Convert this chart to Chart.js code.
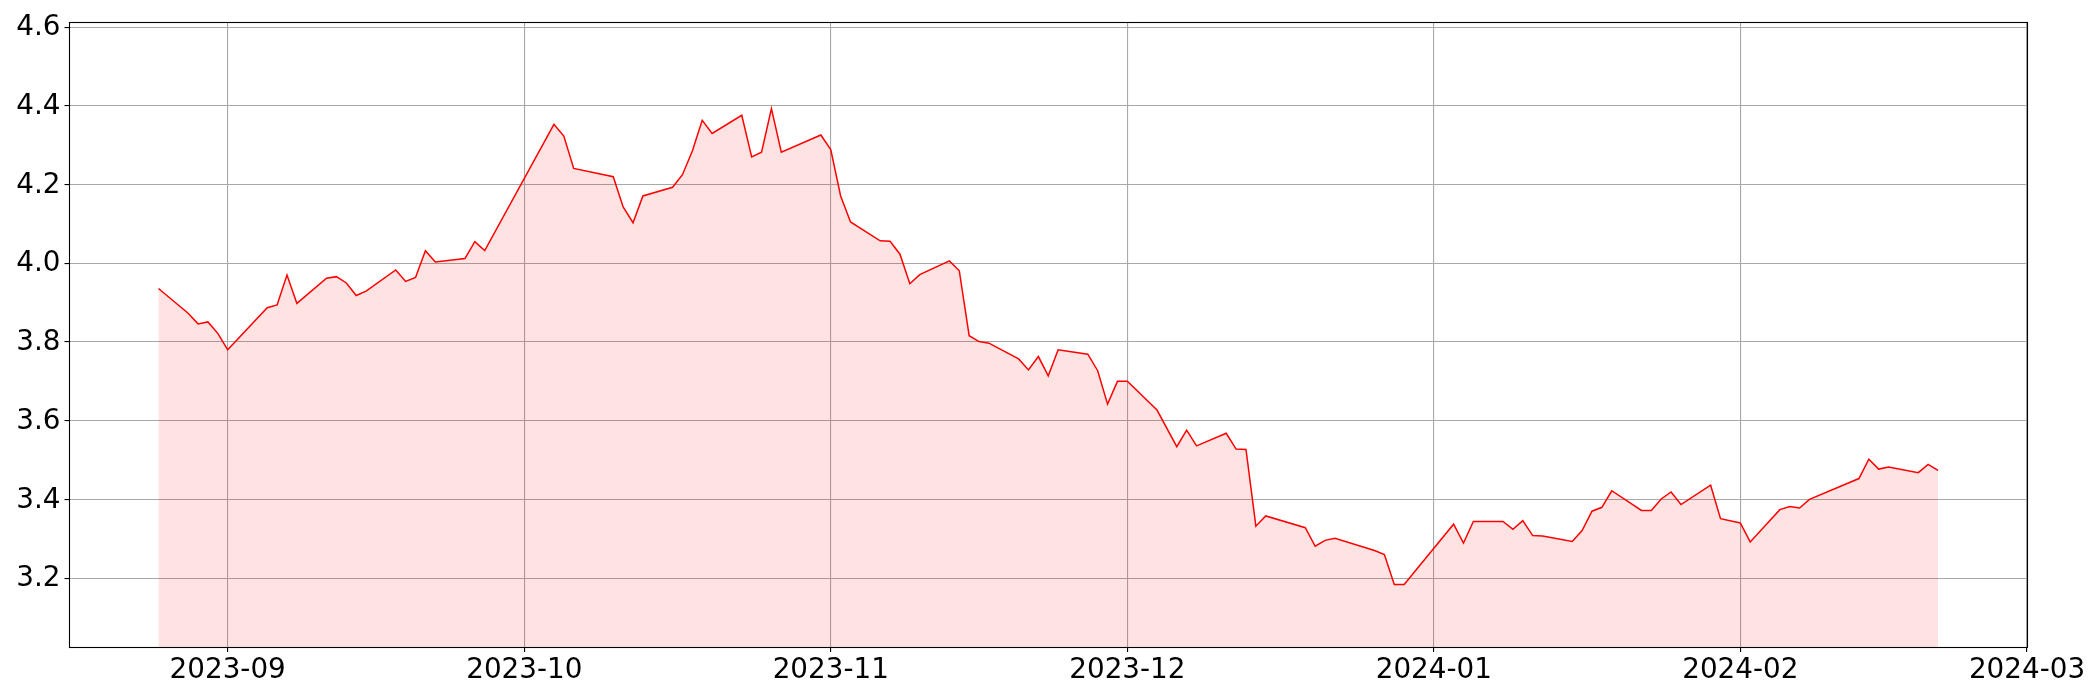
<!DOCTYPE html>
<html>
<head>
<meta charset="utf-8">
<style>
  html, body { margin: 0; padding: 0; background: #ffffff; }
  #wrap { width: 2100px; height: 700px; }
</style>
<script src="https://cdn.jsdelivr.net/npm/chart.js@4.4.1/dist/chart.umd.min.js"></script>
</head>
<body>
<div id="wrap"><canvas id="c" width="2100" height="700"></canvas></div>
<script>
// ---- data ----
const dates = [
  '2023-08-25','2023-08-28','2023-08-29','2023-08-30','2023-08-31','2023-09-01',
  '2023-09-05','2023-09-06','2023-09-07','2023-09-08',
  '2023-09-11','2023-09-12','2023-09-13','2023-09-14','2023-09-15',
  '2023-09-18','2023-09-19','2023-09-20','2023-09-21','2023-09-22',
  '2023-09-25','2023-09-26','2023-09-27',
  '2023-10-04','2023-10-05','2023-10-06',
  '2023-10-10','2023-10-11','2023-10-12','2023-10-13',
  '2023-10-16','2023-10-17','2023-10-18','2023-10-19','2023-10-20',
  '2023-10-23','2023-10-24','2023-10-25','2023-10-26','2023-10-27',
  '2023-10-31','2023-11-01','2023-11-02','2023-11-03',
  '2023-11-06','2023-11-07','2023-11-08','2023-11-09','2023-11-10',
  '2023-11-13','2023-11-14','2023-11-15','2023-11-16','2023-11-17',
  '2023-11-20','2023-11-21','2023-11-22','2023-11-23','2023-11-24',
  '2023-11-27','2023-11-28','2023-11-29','2023-11-30','2023-12-01',
  '2023-12-04','2023-12-06','2023-12-07','2023-12-08',
  '2023-12-11','2023-12-12','2023-12-13','2023-12-14','2023-12-15',
  '2023-12-19','2023-12-20','2023-12-21','2023-12-22',
  '2023-12-26','2023-12-27','2023-12-28','2023-12-29',
  '2024-01-03','2024-01-04','2024-01-05',
  '2024-01-08','2024-01-09','2024-01-10','2024-01-11','2024-01-12',
  '2024-01-15','2024-01-16','2024-01-17','2024-01-18','2024-01-19',
  '2024-01-22','2024-01-23','2024-01-24','2024-01-25','2024-01-26',
  '2024-01-29','2024-01-30','2024-02-01','2024-02-02',
  '2024-02-05','2024-02-06','2024-02-07','2024-02-08',
  '2024-02-13','2024-02-14','2024-02-15','2024-02-16',
  '2024-02-19','2024-02-20','2024-02-21'
];
const values = [
  3.936,3.873,3.846,3.851,3.822,3.780,
  3.887,3.894,3.970,3.898,
  3.962,3.966,3.950,3.918,3.929,
  3.983,3.954,3.964,4.032,4.003,
  4.012,4.055,4.032,
  4.353,4.323,4.241,
  4.220,4.143,4.103,4.171,
  4.193,4.225,4.285,4.363,4.330,
  4.376,4.270,4.282,4.393,4.282,
  4.326,4.289,4.171,4.105,
  4.057,4.056,4.023,3.948,3.971,
  4.006,3.981,3.816,3.801,3.797,
  3.757,3.729,3.763,3.714,3.780,
  3.769,3.727,3.642,3.700,3.700,
  3.627,3.534,3.576,3.536,
  3.568,3.528,3.527,3.332,3.358,
  3.328,3.281,3.296,3.301,
  3.270,3.260,3.184,3.184,
  3.337,3.289,3.344,
  3.344,3.324,3.346,3.308,3.307,
  3.293,3.321,3.370,3.380,3.422,
  3.372,3.372,3.401,3.419,3.387,
  3.436,3.351,3.340,3.292,
  3.374,3.382,3.378,3.400,
  3.453,3.502,3.477,3.482,
  3.468,3.489,3.474
];
const xTickLabels = ['2023-09','2023-10','2023-11','2023-12','2024-01','2024-02','2024-03'];
const yTickValues = [3.2, 3.4, 3.6, 3.8, 4.0, 4.2, 4.4, 4.6];
const xRange = ['2023-08-16', '2024-03-01'];
const yRange = [3.025, 4.613];

// ---- helpers ----
const dayNum = s => Date.parse(s + (s.length === 7 ? '-01' : '')) / 86400000;
const points = dates.map((d, i) => ({ x: dayNum(d), y: values[i] }));
const xTickVals = xTickLabels.map(dayNum);
const labelFor = {};
xTickVals.forEach((v, i) => { labelFor[v] = xTickLabels[i]; });

const FONT = { family: "'DejaVu Sans', sans-serif", size: 27.8 };

const frame = {
  id: 'frame',
  afterDraw(chart) {
    const { ctx, chartArea: a } = chart;
    ctx.save();
    ctx.strokeStyle = '#000000';
    ctx.lineWidth = 1.1;
    const l = Math.floor(a.left) + 0.5, t = Math.floor(a.top) + 0.5;
    const r = Math.floor(a.right) + 0.5, b = Math.floor(a.bottom) + 0.5;
    ctx.strokeRect(l, t, r - l, b - t);
    ctx.restore();
  }
};

new Chart(document.getElementById('c'), {
  type: 'line',
  data: {
    datasets: [{
      data: points,
      borderColor: '#ff0000',
      borderWidth: 1.5,
      backgroundColor: 'rgba(255,0,0,0.11)',
      fill: 'start',
      pointRadius: 0,
      tension: 0
    }]
  },
  options: {
    responsive: false,
    animation: false,
    devicePixelRatio: 1,
    layout: { padding: { top: 22, right: 73, left: 0, bottom: 0 } },
    plugins: { legend: { display: false }, tooltip: { enabled: false } },
    scales: {
      x: {
        type: 'linear',
        min: dayNum(xRange[0]),
        max: dayNum(xRange[1]),
        afterBuildTicks: s => { s.ticks = xTickVals.map(v => ({ value: v })); },
        afterFit: s => { s.height = 53; },
        ticks: {
          autoSkip: false, maxRotation: 0, minRotation: 0,
          color: '#000000', font: FONT, padding: 2,
          callback: v => labelFor[v] || ''
        },
        grid: { color: '#a8a8a8', lineWidth: 1.1, tickLength: 5, tickColor: '#000000', drawTicks: true },
        border: { display: false }
      },
      y: {
        type: 'linear',
        min: yRange[0],
        max: yRange[1],
        afterBuildTicks: s => { s.ticks = yTickValues.map(v => ({ value: v })); },
        afterFit: s => { s.width = 69.5; },
        ticks: {
          color: '#000000', font: FONT, padding: 4, labelOffset: 1,
          callback: v => Number(v).toFixed(1)
        },
        grid: { color: '#a8a8a8', lineWidth: 1.1, tickLength: 5, tickColor: '#000000', drawTicks: true },
        border: { display: false }
      }
    }
  },
  plugins: [frame]
});
</script>
</body>
</html>
